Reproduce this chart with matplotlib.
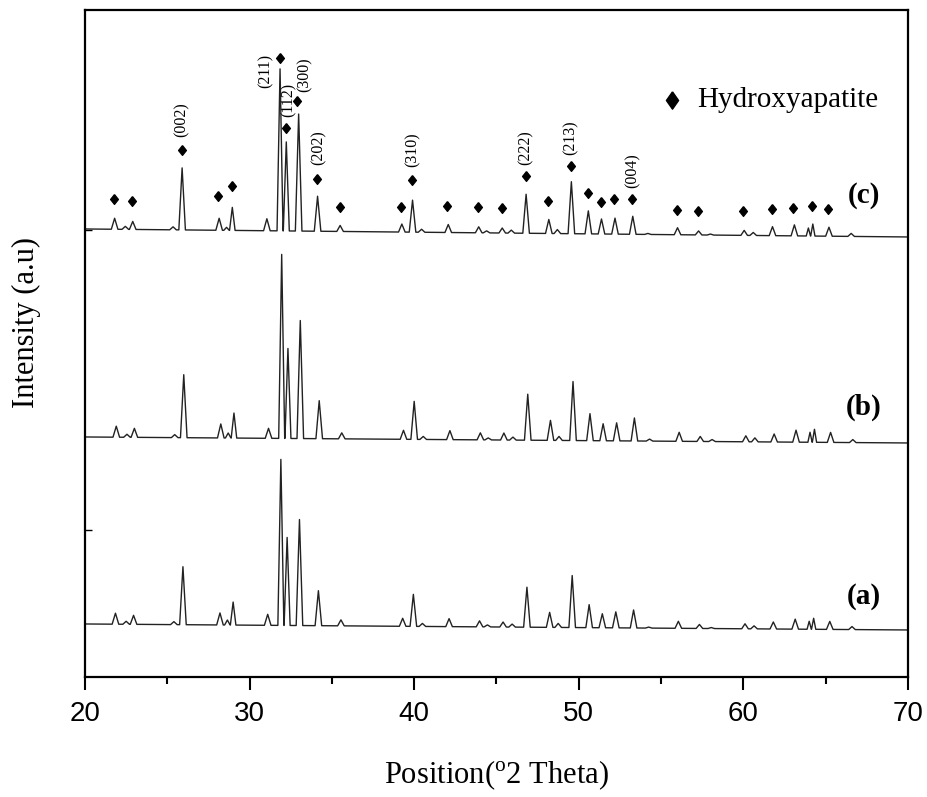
import numpy as np
import matplotlib
matplotlib.use("Agg")
import matplotlib.pyplot as plt

plt.rcParams['font.family'] = ['Liberation Serif', 'DejaVu Serif']
plt.rcParams['mathtext.fontset'] = 'custom'
plt.rcParams['mathtext.rm'] = 'Liberation Serif'

# peak positions (2 theta) and heights above baseline for each pattern
peak_pos = [21.8, 22.45, 22.9, 25.35, 25.9, 28.15, 28.6, 28.95, 31.05, 31.85,
            32.23, 32.98, 34.13, 35.5, 39.25, 39.9, 40.45, 42.07, 43.92, 44.4,
            45.35, 45.9, 46.8, 48.18, 48.7, 49.55, 50.58, 51.38, 52.2, 53.28,
            54.2, 56.0, 57.28, 58.0, 60.05, 60.6, 61.77, 63.1, 63.95, 64.22,
            65.2, 66.55]
height_c = [11, 3, 8, 3, 62, 12, 3, 23, 12, 162,
            89, 117, 35, 6, 8, 32, 3, 8, 6, 2,
            5, 3, 39, 14, 4, 52, 23, 15, 16, 18,
            1, 7, 4, 1, 5, 3, 9, 11, 8, 12,
            9, 3]
height_b = [11, 3, 9, 3, 63, 14, 5, 25, 10, 184,
            90, 118, 38, 6, 9, 38, 3, 9, 7, 2,
            7, 3, 46, 20, 4, 59, 27, 17, 18, 23,
            2, 9, 5, 2, 6, 4, 8, 12, 10, 13,
            10, 3]
height_a = [11, 3, 9, 3, 58, 12, 5, 23, 11, 166,
            88, 106, 35, 6, 8, 32, 3, 8, 6, 2,
            5, 3, 40, 15, 4, 52, 23, 14, 16, 18,
            1, 7, 4, 1, 5, 3, 7, 10, 8, 11,
            8, 3]

# baseline levels (left, right) and small position shift per pattern
base_c = (448, 440)
base_b = (240, 234)
base_a = (53, 47)
shift_c, shift_b, shift_a = 0.0, 0.1, 0.05

# hydroxyapatite markers over pattern (c)
mark_x = [21.78, 22.88, 25.87, 28.06, 28.91, 31.83, 32.21, 32.86, 34.11, 35.49,
          39.2, 39.87, 41.97, 43.9, 45.31, 46.77, 48.15, 49.51, 50.58, 51.35,
          52.16, 53.25, 55.95, 57.26, 59.96, 61.72, 63.03, 64.18, 65.16]
mark_y = [478, 476, 527, 481, 491, 619, 549, 576, 498, 470,
          470, 497, 471, 470, 469, 501, 476, 511, 484, 475,
          478, 478, 467, 466, 466, 468, 469, 471, 468]

# (hkl) labels
hkl_text = ['(002)', '(211)', '(112)', '(300)', '(202)', '(310)', '(222)', '(213)', '(004)']
hkl_x = [25.87, 30.95, 32.38, 33.35, 34.17, 39.9, 46.77, 49.51, 53.25]
hkl_y = [540, 589, 560, 585, 512, 510, 512, 522, 489]

sample_labels = ['(c)', '(b)', '(a)']
sample_y = [481, 270, 80]


def build_trace(pos, heights, base, shift):
    pos = np.array(pos) + shift
    xs = [20.0]
    ys = [base[0]]
    lvl = lambda x: base[0] + (base[1] - base[0]) * (x - 20) / 50.0
    for i, (p, h) in enumerate(zip(pos, heights)):
        gaps = []
        if i > 0:
            gaps.append(p - pos[i - 1])
        if i < len(pos) - 1:
            gaps.append(pos[i + 1] - p)
        w = min(0.2, 0.48 * min(gaps))
        xs += [p - w, p, p + w]
        ys += [lvl(p - w), lvl(p) + h, lvl(p + w)]
    xs.append(70.0)
    ys.append(base[1])
    return xs, ys


fig = plt.figure(figsize=(9.28, 7.97), dpi=100)
ax = fig.add_axes([0.0916, 0.1506, 0.8868, 0.8369])

for h, b, s in [(height_c, base_c, shift_c), (height_b, base_b, shift_b),
                (height_a, base_a, shift_a)]:
    xs, ys = build_trace(peak_pos, h, b, s)
    ax.plot(xs, ys, color='#222222', lw=1.0)

diamond = [(0, 1), (0.8, 0), (0, -1), (-0.8, 0), (0, 1)]
ax.plot(mark_x, mark_y, ls='none', marker=diamond, ms=7, color='black')

for t, x, y in zip(hkl_text, hkl_x, hkl_y):
    ax.text(x, y, t, rotation=90, ha='center', va='bottom', fontsize=11.5)

for t, y in zip(sample_labels, sample_y):
    ax.text(67.3, y, t, ha='center', va='center', fontsize=21, fontweight='bold')

legend_diamond = [(0, 1), (0.7, 0), (0, -1), (-0.7, 0), (0, 1)]
ax.plot([55.64], [577], ls='none', marker=legend_diamond, ms=12.5, color='black')
ax.text(57.2, 577, 'Hydroxyapatite', ha='left', va='center', fontsize=21)

ax.set_xlim(20, 70)
ax.set_ylim(0, 667)
ax.set_xticks([20, 30, 40, 50, 60, 70])
ax.set_xticks([25, 35, 45, 55, 65], minor=True)
ax.set_yticks([147, 447])
ax.set_yticklabels([])
ax.tick_params(axis='x', which='major', direction='out', length=9, width=1.5,
               pad=8, labelsize=20, labelfontfamily='Liberation Sans')
ax.tick_params(axis='x', which='minor', direction='out', length=5, width=1.5)
ax.tick_params(axis='y', direction='in', length=5, width=1.0)
for sp in ax.spines.values():
    sp.set_linewidth(1.6)

ax.set_xlabel(r'Position($^{\mathrm{o}}$2 Theta)', fontsize=22, labelpad=23)
ax.set_ylabel('Intensity (a.u)', fontsize=22)
ax.yaxis.set_label_coords(-0.054, 0.531)

fig.savefig('out.png', dpi=100)
